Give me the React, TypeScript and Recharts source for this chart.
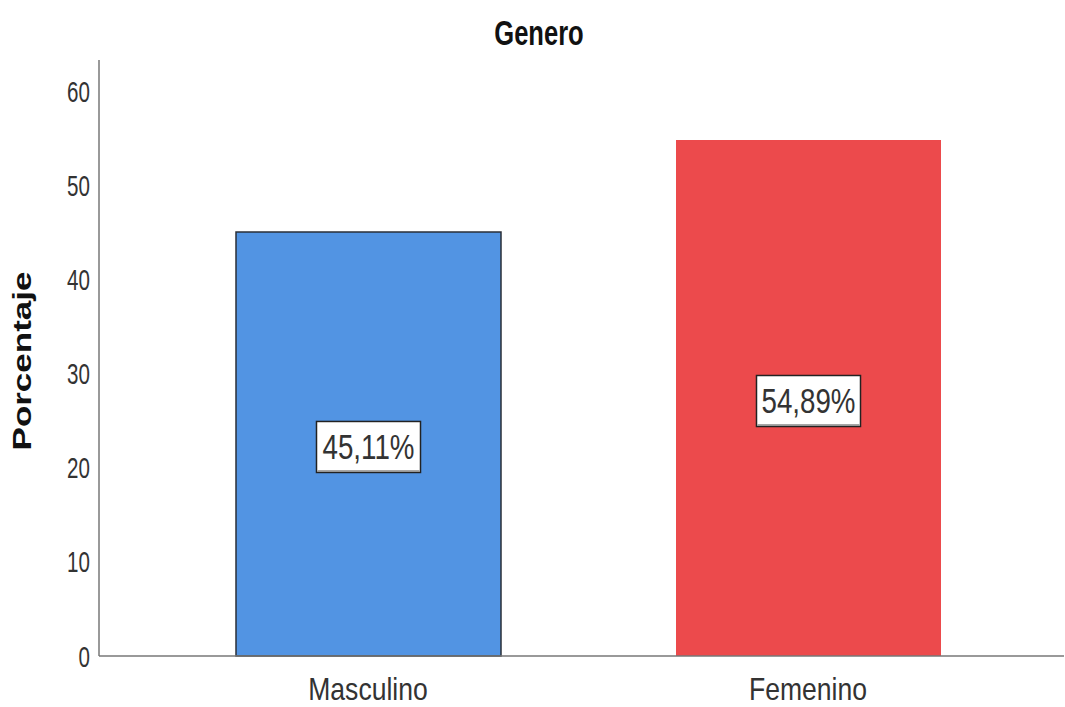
import { Bar, BarChart, Cell, LabelList, XAxis, YAxis } from 'recharts';

const categories = ['Masculino', 'Femenino'];
const percentages = [45.11, 54.89];
const yTicks = [0, 10, 20, 30, 40, 50, 60];

const BAR_COLORS = ['#5294E3', '#EC4A4C'];
const BAR_STROKES = ['#2a2f38', 'none'];
const FONT = '"Liberation Sans", Arial, sans-serif';

const data = categories.map((name, i) => ({ name, value: percentages[i] }));

const formatPct = (v: number) => `${v.toFixed(2).replace('.', ',')}%`;

function YTick({ x, y, payload }: any) {
  return (
    <g transform={`translate(${x},${y + 10.5})`}>
      <text transform="scale(0.71,1)" textAnchor="end" fontFamily={FONT} fontSize={29} fill="#333">
        {payload.value}
      </text>
    </g>
  );
}

function XTick({ x, y, payload }: any) {
  return (
    <g transform={`translate(${x},${y + 44})`}>
      <text transform="scale(0.83,1)" textAnchor="middle" fontFamily={FONT} fontSize={32} fill="#333">
        {payload.value}
      </text>
    </g>
  );
}

function BoxLabel({ x, y, width, height, value }: any) {
  const cx = x + width / 2;
  const cy = y + height / 2 + 2.5;
  return (
    <g>
      <rect x={cx - 52} y={cy - 25} width={104} height={51} fill="#fff" stroke="#222" strokeWidth={1.5} />
      <line x1={cx - 51} x2={cx + 51} y1={cy + 24.5} y2={cy + 24.5} stroke="#888" strokeWidth={1.5} />
      <g transform={`translate(${cx},${cy + 13})`}>
        <text transform="scale(0.77,1)" textAnchor="middle" fontFamily={FONT} fontSize={36} fill="#333">
          {formatPct(value)}
        </text>
      </g>
    </g>
  );
}

export default function App() {
  return (
    <div style={{ position: 'absolute', left: 0, top: 0, width: 1065, height: 707, background: '#fff' }}>
      <BarChart width={1065} height={707} data={data} margin={{ top: 60, right: 1, bottom: 0, left: 0 }}>
        <text
          transform="translate(539,45) scale(0.73,1)"
          textAnchor="middle"
          fontFamily={FONT}
          fontWeight="bold"
          fontSize={35}
          fill="#111"
        >
          Genero
        </text>
        <text
          transform="translate(31,361) rotate(-90) scale(1,0.72)"
          textAnchor="middle"
          fontFamily={FONT}
          fontWeight="bold"
          fontSize={35}
          fill="#111"
        >
          Porcentaje
        </text>
        <YAxis
          width={99}
          domain={[0, 63.4]}
          ticks={yTicks}
          tickLine={false}
          tickSize={0}
          tickMargin={9}
          axisLine={{ stroke: '#777', strokeWidth: 1.5 }}
          tick={<YTick />}
          interval={0}
        />
        <XAxis
          dataKey="name"
          height={51}
          padding={{ left: 49, right: 36 }}
          tickLine={false}
          tickSize={0}
          tickMargin={0}
          axisLine={{ stroke: '#777', strokeWidth: 1.5 }}
          tick={<XTick />}
          interval={0}
        />
        <Bar dataKey="value" barSize={265} isAnimationActive={false}>
          {data.map((d, i) => (
            <Cell key={d.name} fill={BAR_COLORS[i]} stroke={BAR_STROKES[i]} strokeWidth={1.5} />
          ))}
          <LabelList dataKey="value" content={<BoxLabel />} />
        </Bar>
      </BarChart>
    </div>
  );
}
